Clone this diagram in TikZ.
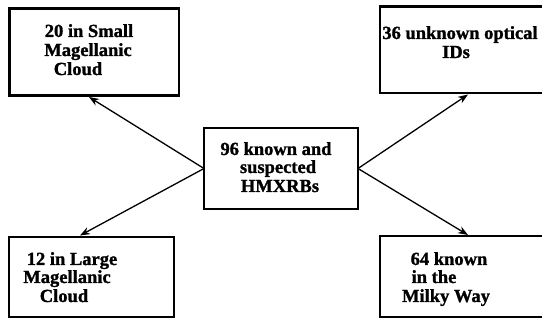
\documentclass[tikz,border=0pt]{standalone}
\usepackage{fontspec}
\setmainfont{Liberation Serif}[BoldFeatures={FakeBold=1.3}]
\usetikzlibrary{arrows.meta}
\tikzset{
  boxnode/.style={draw, line width=2.8pt, rectangle, inner sep=0pt, outer sep=0pt},
  lbl/.style={anchor=base, inner sep=0pt, font=\fontsize{18.5}{19}\selectfont\bfseries},
  conn/.style={line width=1.3pt, -{Stealth[length=10pt,width=7.5pt]}}
}
\begin{document}
\begin{tikzpicture}[x=1pt,y=-1pt]
\useasboundingbox (0,0) rectangle (542,320);
% boxes
\node[boxnode, minimum width=169.5pt, minimum height=87pt] (b1) at (94.25,52) {};
\node[boxnode, minimum width=165pt, minimum height=86.5pt] (b2) at (462.5,49.75) {};
\node[boxnode, minimum width=154pt, minimum height=81pt] (b0) at (281,168.5) {};
\node[boxnode, minimum width=165pt, minimum height=80pt] (b4) at (91.5,277) {};
\node[boxnode, minimum width=165pt, minimum height=81pt] (b5) at (462.5,276.5) {};
% texts
\node[lbl] (l1a) at (89,37) {20 in Small};
\node[lbl] (l1b) at (88,56) {Magellanic};
\node[lbl] (l1c) at (78,75) {Cloud};
\node[lbl] (l2a) at (460,39) {36 unknown optical};
\node[lbl] (l2b) at (456,58) {IDs};
\node[lbl] (l0a) at (276,155) {96 known and};
\node[lbl] (l0b) at (278,173) {suspected};
\node[lbl] (l0c) at (280,192) {HMXRBs};
\node[lbl] (l4a) at (72,265) {12 in Large};
\node[lbl] (l4b) at (67,283) {Magellanic};
\node[lbl] (l4c) at (64,302) {Cloud};
\node[lbl] (l5a) at (449,265) {64 known};
\node[lbl] (l5b) at (434,283) {in the};
\node[lbl] (l5c) at (446,302) {Milky Way};
% arrow tips
\coordinate (t1) at (89,97);
\coordinate (t2) at (468,94.5);
\coordinate (t4) at (80,235.5);
\coordinate (t5) at (468,235);
\draw[conn] (b0.west) -- (t1);
\draw[conn] (b0.west) -- (t4);
\draw[conn] (b0.east) -- (t2);
\draw[conn] (b0.east) -- (t5);
\end{tikzpicture}
\end{document}
